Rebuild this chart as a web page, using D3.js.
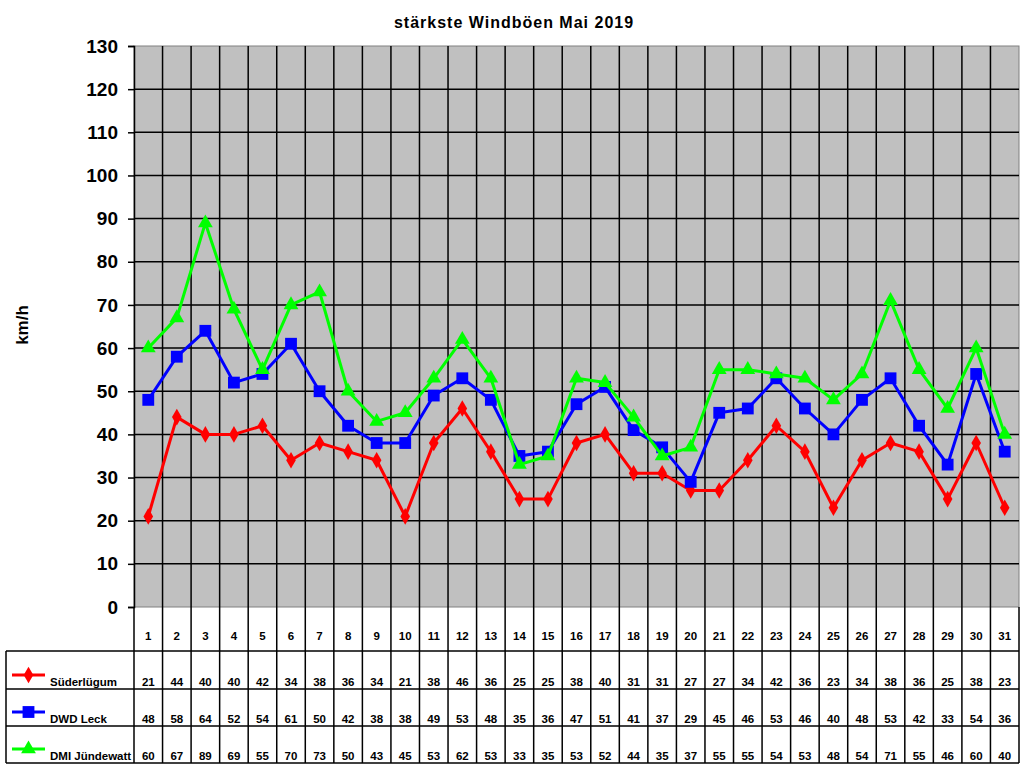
<!DOCTYPE html>
<html>
<head>
<meta charset="utf-8">
<script src="https://cdn.jsdelivr.net/npm/d3@7"></script>
<style>
body { margin: 0; background: #fff; }
text { font-family: Arial, "Liberation Sans", sans-serif; font-weight: bold; }
</style>
</head>
<body>
<svg width="1024" height="768"></svg>
<script>
var days = d3.range(1, 32);
var seriesNames = ["Süderlügum", "DWD Leck", "DMI Jündewatt"];
var seriesColors = ["#ff0000", "#0000ff", "#00ff00"];
var suederluegum = [21, 44, 40, 40, 42, 34, 38, 36, 34, 21, 38, 46, 36, 25, 25, 38, 40, 31, 31, 27, 27, 34, 42, 36, 23, 34, 38, 36, 25, 38, 23];
var dwdLeck = [48, 58, 64, 52, 54, 61, 50, 42, 38, 38, 49, 53, 48, 35, 36, 47, 51, 41, 37, 29, 45, 46, 53, 46, 40, 48, 53, 42, 33, 54, 36];
var dmiJuendewatt = [60, 67, 89, 69, 55, 70, 73, 50, 43, 45, 53, 62, 53, 33, 35, 53, 52, 44, 35, 37, 55, 55, 54, 53, 48, 54, 71, 55, 46, 60, 40];
var yTicks = d3.range(0, 131, 10);

var series = [suederluegum, dwdLeck, dmiJuendewatt];
var shapes = [d3.symbolDiamond, d3.symbolSquare, d3.symbolTriangle];
var shapeSize = [80, 140, 95];

var pLeft = 134, pRight = 1019, pTop = 46, pBottom = 607;
var svg = d3.select("svg");

var x = d3.scaleBand().domain(days).range([pLeft, pRight]);
var y = d3.scaleLinear().domain([0, 130]).range([pBottom, pTop]);

// plot area
svg.append("rect")
    .attr("x", pLeft).attr("y", pTop)
    .attr("width", pRight - pLeft).attr("height", pBottom - pTop)
    .attr("fill", "#c0c0c0")
    .attr("stroke", "#808080");

// horizontal grid
svg.selectAll(".hgrid").data(yTicks.filter(d => d > 0 && d < 130)).enter()
    .append("line")
    .attr("x1", pLeft).attr("x2", pRight)
    .attr("y1", d => y(d)).attr("y2", d => y(d))
    .attr("stroke", "#000").attr("stroke-width", 1.5);

// vertical grid in plot + table
svg.selectAll(".vgrid").data(days.slice(1)).enter()
    .append("line")
    .attr("x1", d => x(d)).attr("x2", d => x(d))
    .attr("y1", pTop).attr("y2", 763)
    .attr("stroke", "#000").attr("stroke-width", 1.5);

// y axis
var yAxis = d3.axisLeft(y).tickValues(yTicks).tickSize(6).tickPadding(10);
var ga = svg.append("g").attr("transform", "translate(" + pLeft + ",0)").call(yAxis);
ga.select(".domain").attr("stroke", "#000").attr("stroke-width", 1.5);
ga.selectAll(".tick line").attr("stroke", "#000").attr("stroke-width", 1.5);
ga.selectAll(".tick text").attr("font-size", 19).attr("fill", "#000")
    .attr("font-family", "Arial, 'Liberation Sans', sans-serif").attr("font-weight", "bold");

svg.append("text")
    .attr("transform", "translate(28,325) rotate(-90)")
    .attr("text-anchor", "middle")
    .attr("font-size", 17)
    .text("km/h");

svg.append("text")
    .attr("x", 514).attr("y", 28)
    .attr("text-anchor", "middle")
    .attr("font-size", 16)
    .attr("letter-spacing", 1)
    .text("stärkste Windböen Mai 2019");

// table
var rowLines = [651, 689, 726, 763];
svg.selectAll(".rowline").data(rowLines).enter()
    .append("line")
    .attr("x1", 6).attr("x2", pRight)
    .attr("y1", d => d).attr("y2", d => d)
    .attr("stroke", "#000").attr("stroke-width", 1.5);
svg.append("line").attr("x1", 6).attr("x2", 6).attr("y1", 651).attr("y2", 763)
    .attr("stroke", "#000").attr("stroke-width", 1.5);
svg.append("line").attr("x1", pLeft).attr("x2", pLeft).attr("y1", pBottom).attr("y2", 763)
    .attr("stroke", "#000").attr("stroke-width", 1.5);
svg.append("line").attr("x1", pRight).attr("x2", pRight).attr("y1", pBottom).attr("y2", 763)
    .attr("stroke", "#000").attr("stroke-width", 1.5);

svg.selectAll(".daylabel").data(days).enter()
    .append("text")
    .attr("x", d => x(d) + x.bandwidth() / 2)
    .attr("y", 640)
    .attr("text-anchor", "middle")
    .attr("font-size", 11.5)
    .text(d => d);

var rowTextY = [686, 723, 760];

series.forEach(function(vals, s) {
    var line = d3.line()
        .x((d, i) => x(days[i]) + x.bandwidth() / 2)
        .y(d => y(d));
    svg.append("path")
        .datum(vals)
        .attr("d", line)
        .attr("fill", "none")
        .attr("stroke", seriesColors[s])
        .attr("stroke-width", 3)
        .attr("stroke-linejoin", "round");
    svg.selectAll(".m" + s).data(vals).enter()
        .append("path")
        .attr("d", d3.symbol().type(shapes[s]).size(shapeSize[s]))
        .attr("transform", (d, i) => "translate(" + (x(days[i]) + x.bandwidth() / 2) + "," + y(d) + ")")
        .attr("fill", seriesColors[s]);

    // table values
    svg.selectAll(".v" + s).data(vals).enter()
        .append("text")
        .attr("x", (d, i) => x(days[i]) + x.bandwidth() / 2)
        .attr("y", rowTextY[s])
        .attr("text-anchor", "middle")
        .attr("font-size", 11.5)
        .text(d => d);

    // legend key
    var ly = rowTextY[s] - 11;
    svg.append("line")
        .attr("x1", 12).attr("x2", 45)
        .attr("y1", ly).attr("y2", ly)
        .attr("stroke", seriesColors[s]).attr("stroke-width", 3);
    svg.append("path")
        .attr("d", d3.symbol().type(shapes[s]).size(shapeSize[s]))
        .attr("transform", "translate(28.5," + ly + ")")
        .attr("fill", seriesColors[s]);
    svg.append("text")
        .attr("x", 50).attr("y", rowTextY[s])
        .attr("font-size", 11.5)
        .text(seriesNames[s]);
});
</script>
</body>
</html>
